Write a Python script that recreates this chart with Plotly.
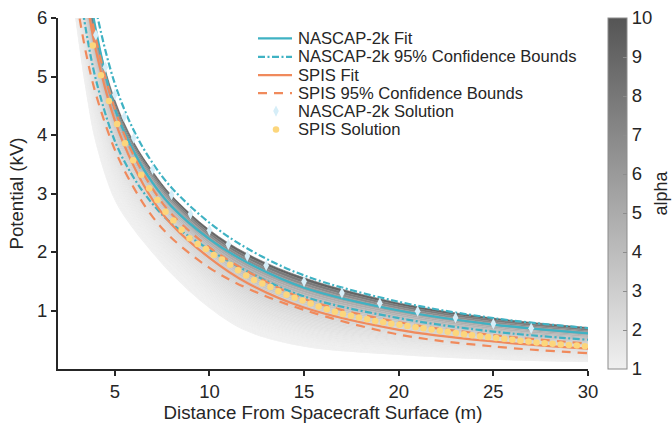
import plotly.graph_objects as go

# ---- fitted curves, tabulated at these distances (m) ----
x_curve = [3, 3.5, 4, 5, 6, 7, 8, 10, 12, 15, 20, 25, 30]

nascap_fit = [8.1, 6.8, 5.8, 4.45, 3.72, 3.18, 2.78, 2.22, 1.82, 1.39, 1.00, 0.76, 0.61]
nascap_upper = [8.3, 7.1, 6.15, 4.88, 4.08, 3.52, 3.10, 2.50, 2.06, 1.60, 1.15, 0.87, 0.70]
nascap_lower = [6.8, 5.75, 4.95, 3.90, 3.27, 2.82, 2.49, 2.04, 1.67, 1.24, 0.87, 0.64, 0.50]

spis_fit = [7.5, 6.35, 5.45, 4.25, 3.47, 2.89, 2.47, 1.90, 1.47, 1.05, 0.67, 0.47, 0.35]
spis_upper = [7.8, 6.6, 5.65, 4.45, 3.65, 3.08, 2.65, 2.08, 1.67, 1.20, 0.80, 0.58, 0.435]
spis_lower = [6.26, 5.37, 4.70, 3.75, 3.10, 2.60, 2.24, 1.73, 1.38, 1.01, 0.59, 0.385, 0.27]

# ---- simulation solutions ----
nascap_x = [4, 4.5, 5, 5.5, 6, 7, 8, 9, 10, 11, 12, 13, 15, 17, 19, 21, 23, 25, 27]
nascap_v = [5.71, 5.16, 4.69, 4.31, 3.95, 3.41, 2.98, 2.65, 2.37, 2.13, 1.93, 1.77,
            1.495, 1.30, 1.126, 0.988, 0.877, 0.773, 0.695]

spis_x = [3.84, 4.27, 4.69, 5.12, 5.54, 5.97, 6.40, 6.82, 7.25, 7.68, 8.10, 8.53,
          8.95, 9.38, 9.81, 10.23, 10.66, 11.09, 11.51, 11.94, 12.36, 12.79, 13.22,
          13.64, 14.07, 14.50, 14.92, 15.35, 15.77, 16.20, 16.63, 17.05, 17.48, 17.90,
          18.33, 18.76, 19.18, 19.61, 20.04, 20.46, 20.89, 21.31, 21.74, 22.17, 22.59,
          23.02, 23.45, 23.87, 24.30, 24.72, 25.15, 25.58, 26.00, 26.43, 26.86, 27.28,
          27.71, 28.13, 28.56, 28.99, 29.41, 29.84]
spis_v = [5.53, 5.02, 4.58, 4.19, 3.86, 3.57, 3.32, 3.09, 2.89, 2.69, 2.54, 2.38,
          2.235, 2.136, 2.05, 1.95, 1.87, 1.78, 1.69, 1.60, 1.52, 1.46, 1.40,
          1.33, 1.27, 1.22, 1.17, 1.12, 1.07, 1.02, 0.98, 0.94, 0.91, 0.88,
          0.85, 0.82, 0.80, 0.775, 0.755, 0.735, 0.715, 0.695, 0.675, 0.655, 0.635,
          0.615, 0.595, 0.575, 0.56, 0.545, 0.53, 0.515, 0.50, 0.485, 0.47, 0.455,
          0.44, 0.43, 0.42, 0.41, 0.40, 0.39]

# ---- alpha family envelope (alpha = 10 on top, alpha = 1 at the bottom) ----
x_shade = [2.8, 3, 3.5, 4, 5, 6, 7, 8, 10, 12, 15, 20, 25, 30]
shade_alpha10 = [8.3, 7.7, 6.6, 5.75, 4.60, 3.88, 3.38, 2.97, 2.38, 1.97, 1.56, 1.13, 0.87, 0.71]
shade_alpha1 = [6.3, 5.8, 4.7, 3.85, 2.88, 2.38, 1.98, 1.62, 1.04, 0.64, 0.38, 0.24, 0.16, 0.12]

legend_labels = ["NASCAP-2k Fit", "NASCAP-2k 95% Confidence Bounds", "SPIS Fit",
                 "SPIS 95% Confidence Bounds", "NASCAP-2k Solution", "SPIS Solution"]

alpha_min, alpha_max = 1, 10
gray_light, gray_dark = 240, 85

C_NASCAP = "#3fb2c3"
C_SPIS = "#f08a5c"
C_DIAMOND = "#d6eef8"
C_DOT = "#fcd67c"
C_TEXT = "#262626"
FONT = "Liberation Sans, Arial, Helvetica, sans-serif"
DASHDOT = "7px,2.5px,2px,2.5px"
DASH = "9px,7px"
LW = 2.2

# plot area in pixels (used for the overlay axes that carry the legend)
PX_L, PX_R, PX_T, PX_B = 58, 588, 7, 369


def gray_for(alpha):
    f = (alpha - alpha_min) / (alpha_max - alpha_min)
    g = round(gray_light + (gray_dark - gray_light) * f)
    return f"rgb({g},{g},{g})"


def alpha_curve(a):
    # curves of the family crowd toward the top as alpha grows (exponent 1 + 1/alpha)
    t = (1 - 1 / a) / (1 - 1 / alpha_max)
    return [lo ** (1 - t) * hi ** t for lo, hi in zip(shade_alpha1, shade_alpha10)]


fig = go.Figure()

# shaded alpha family: thin filled bands stacked from alpha = 1 up to alpha = 10
n_bands = 48
t_edges = [i / n_bands for i in range(n_bands + 1)]
a_edges = [1 / (1 - (1 - 1 / alpha_max) * t) for t in t_edges]
fig.add_trace(go.Scatter(x=x_shade, y=alpha_curve(a_edges[0]), mode="lines",
                         line=dict(width=0, shape="spline"), hoverinfo="skip",
                         showlegend=False))
for i in range(1, len(a_edges)):
    a_mid = 0.5 * (a_edges[i - 1] + a_edges[i])
    col = gray_for(a_mid)
    fig.add_trace(go.Scatter(x=x_shade, y=alpha_curve(a_edges[i]), mode="lines",
                             line=dict(width=0.6, color=col, shape="spline"),
                             fill="tonexty", fillcolor=col, hoverinfo="skip",
                             showlegend=False))

# colour bar for alpha
fig.add_trace(go.Scatter(
    x=[2, 2], y=[-5, -5], mode="markers", showlegend=False, hoverinfo="skip",
    marker=dict(color=[alpha_min, alpha_max], cmin=alpha_min, cmax=alpha_max,
                colorscale=[[0, gray_for(alpha_min)], [1, gray_for(alpha_max)]],
                showscale=True, size=1,
                colorbar=dict(x=1.0377, xanchor="left", xpad=0, y=0.5, yanchor="middle",
                              len=1, ypad=0, thickness=19, outlinecolor="#8c8c8c",
                              outlinewidth=1, tickvals=list(range(1, 11)),
                              ticks="inside", ticklen=4, tickcolor="#8c8c8c",
                              ticklabeloverflow="allow",
                              tickfont=dict(size=18.5, color=C_TEXT, family=FONT)))))


def line_trace(y, color, dash=None):
    return go.Scatter(x=x_curve, y=y, mode="lines", showlegend=False, hoverinfo="skip",
                      line=dict(color=color, width=LW, dash=dash, shape="spline"))


# fits and confidence bounds
fig.add_trace(line_trace(nascap_fit, C_NASCAP))
fig.add_trace(line_trace(nascap_upper, C_NASCAP, DASHDOT))
fig.add_trace(line_trace(nascap_lower, C_NASCAP, DASHDOT))
fig.add_trace(line_trace(spis_fit, C_SPIS))
fig.add_trace(line_trace(spis_upper, C_SPIS, DASH))
fig.add_trace(line_trace(spis_lower, C_SPIS, DASH))

# solutions
fig.add_trace(go.Scatter(x=nascap_x, y=nascap_v, mode="markers", showlegend=False,
                         marker=dict(symbol="diamond-tall", size=8, color=C_DIAMOND,
                                     line=dict(width=0))))
fig.add_trace(go.Scatter(x=spis_x, y=spis_v, mode="markers", showlegend=False,
                         marker=dict(symbol="circle", size=6.5, color=C_DOT,
                                     line=dict(width=0))))

# legend, drawn on an overlay pixel-coordinate axis pair
row_y = [28, 47, 66, 84.5, 103, 122]
seg_x0, seg_x1, text_x, mark_x = 258, 292, 296, 276
legend_styles = [(C_NASCAP, None), (C_NASCAP, DASHDOT), (C_SPIS, None), (C_SPIS, DASH)]
for (col, dash), yy in zip(legend_styles, row_y):
    fig.add_trace(go.Scatter(x=[seg_x0, seg_x1], y=[yy, yy], xaxis="x2", yaxis="y2",
                             mode="lines", showlegend=False, hoverinfo="skip",
                             line=dict(color=col, width=LW, dash=dash)))
fig.add_trace(go.Scatter(x=[mark_x], y=[row_y[4]], xaxis="x2", yaxis="y2", mode="markers",
                         showlegend=False, hoverinfo="skip",
                         marker=dict(symbol="diamond-tall", size=8, color=C_DIAMOND)))
fig.add_trace(go.Scatter(x=[mark_x], y=[row_y[5]], xaxis="x2", yaxis="y2", mode="markers",
                         showlegend=False, hoverinfo="skip",
                         marker=dict(symbol="circle", size=6.5, color=C_DOT)))
annotations = [dict(x=text_x, y=yy, xref="x2", yref="y2", text=lab, showarrow=False,
                    xanchor="left", yanchor="middle",
                    font=dict(size=16.6, color=C_TEXT, family=FONT))
               for lab, yy in zip(legend_labels, row_y)]

# colour-bar caption
annotations.append(dict(x=1.0 + (660 - PX_R) / (PX_R - PX_L), y=0.5, xref="paper",
                        yref="paper", text="alpha", textangle=-90, showarrow=False,
                        xanchor="center", yanchor="middle", borderpad=0,
                        font=dict(size=18, color=C_TEXT, family=FONT)))

axis_common = dict(showgrid=False, zeroline=False, showline=True, linecolor=C_TEXT,
                   linewidth=2, ticks="outside", ticklen=5, tickwidth=1.5,
                   tickcolor=C_TEXT, ticklabeloverflow="allow",
                   tickfont=dict(size=18.5, color=C_TEXT, family=FONT))

fig.update_layout(
    width=672, height=429,
    margin=dict(l=PX_L, r=672 - PX_R, t=PX_T, b=429 - PX_B),
    plot_bgcolor="white", paper_bgcolor="white",
    font=dict(family=FONT, size=18, color=C_TEXT),
    xaxis=dict(range=[2, 30], tickvals=[5, 10, 15, 20, 25, 30],
               title=dict(text="Distance From Spacecraft Surface (m)", standoff=4,
                          font=dict(size=18.7)), **axis_common),
    yaxis=dict(range=[0, 6], tickvals=[1, 2, 3, 4, 5, 6],
               title=dict(text="Potential (kV)", standoff=8, font=dict(size=18.7)),
               **axis_common),
    xaxis2=dict(overlaying="x", anchor="y2", range=[PX_L, PX_R], visible=False,
                fixedrange=True),
    yaxis2=dict(overlaying="y", anchor="x2", range=[PX_B, PX_T], visible=False,
                fixedrange=True),
    annotations=annotations,
    showlegend=False,
)

fig.write_html("out.html")
